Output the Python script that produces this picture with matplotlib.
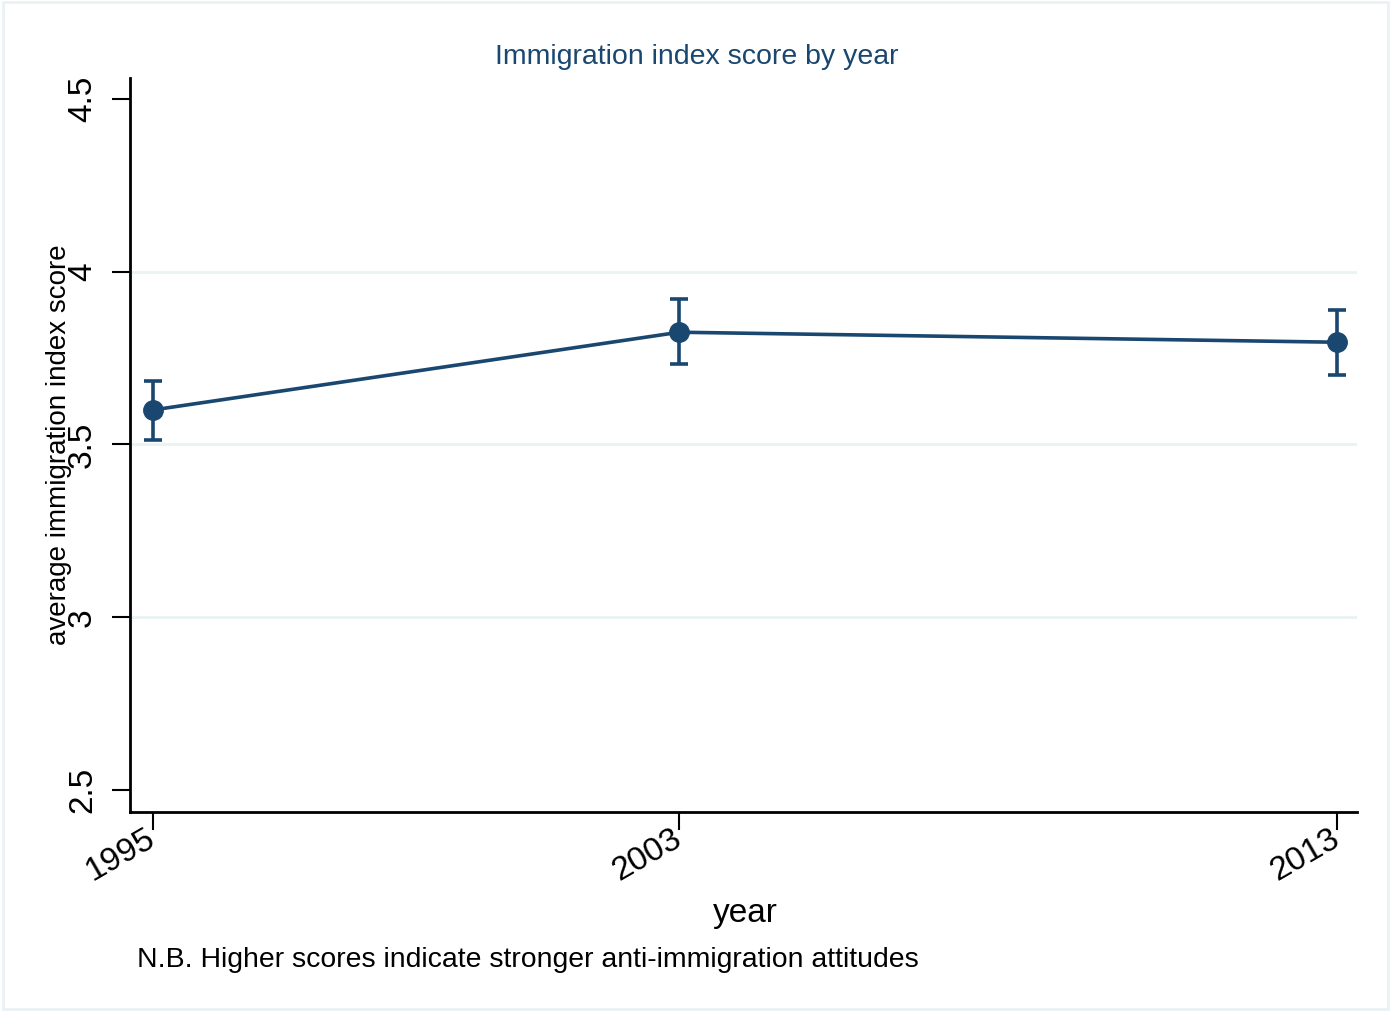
import numpy as np
import matplotlib
matplotlib.use("Agg")
import matplotlib.pyplot as plt
import matplotlib.transforms as mtransforms
from matplotlib.patches import Rectangle

plt.rcParams['font.family'] = ['Liberation Sans', 'DejaVu Sans']

# data
years = [1995, 2003, 2013]
means = [3.60, 3.825, 3.796]
lower = [3.512, 3.732, 3.700]
upper = [3.683, 3.920, 3.889]
yticks = [2.5, 3, 3.5, 4, 4.5]
grid_at = [3, 3.5, 4]

navy = '#1a476f'

fig = plt.figure(figsize=(13.91, 10.11), dpi=100)
ax = fig.add_axes([130/1391, 1-812/1011, 1227/1391, 734/1011])

yerr = [np.array(means) - np.array(lower), np.array(upper) - np.array(means)]
ax.errorbar(years, means, yerr=yerr, color=navy, lw=2.6, marker='o', ms=14,
            elinewidth=2.6, capsize=6.2, capthick=2.6, zorder=3)

for g in grid_at:
    ax.axhline(g, color='#eaf2f3', lw=2, zorder=0)

ax.set_xlim(1994.65, 2013.30)
ax.set_ylim(2.436, 4.561)
ax.set_yticks(yticks)
ax.set_yticklabels(['2.5', '3', '3.5', '4', '4.5'], rotation=90, va='center')
ax.set_xticks(years)
ax.set_xticklabels([str(y) for y in years], rotation=30, ha='right',
                   rotation_mode='anchor')
ax.tick_params(axis='both', length=13, width=1.5, labelsize=24)
ax.tick_params(axis='x', pad=0)
ax.tick_params(axis='y', pad=10)

shift = mtransforms.ScaledTranslation(-8/100, 7/100, fig.dpi_scale_trans)
for lab in ax.get_xticklabels():
    lab.set_transform(lab.get_transform() + shift)

for s in ['top', 'right']:
    ax.spines[s].set_visible(False)
for s in ['left', 'bottom']:
    ax.spines[s].set_linewidth(2)

ax.set_xlabel('year', fontsize=24)
ax.set_ylabel('average immigration index score', fontsize=20)
ax.yaxis.set_label_coords((72-130)/1227, 0.5)
ax.xaxis.set_label_coords((745-130)/1227, -(898-812)/734)

fig.text(697/1391, 1-57/1011, 'Immigration index score by year', color=navy,
         fontsize=20.5, ha='center', va='center')
fig.text(137/1391, 1-960/1011,
         'N.B. Higher scores indicate stronger anti-immigration attitudes',
         fontsize=20.4, ha='left', va='center')

fig.patches.append(Rectangle((0.002, 0.002), 0.996, 0.996, transform=fig.transFigure,
                             fill=False, ec='#eaf2f3', lw=2))

fig.savefig('out.png', dpi=100)
